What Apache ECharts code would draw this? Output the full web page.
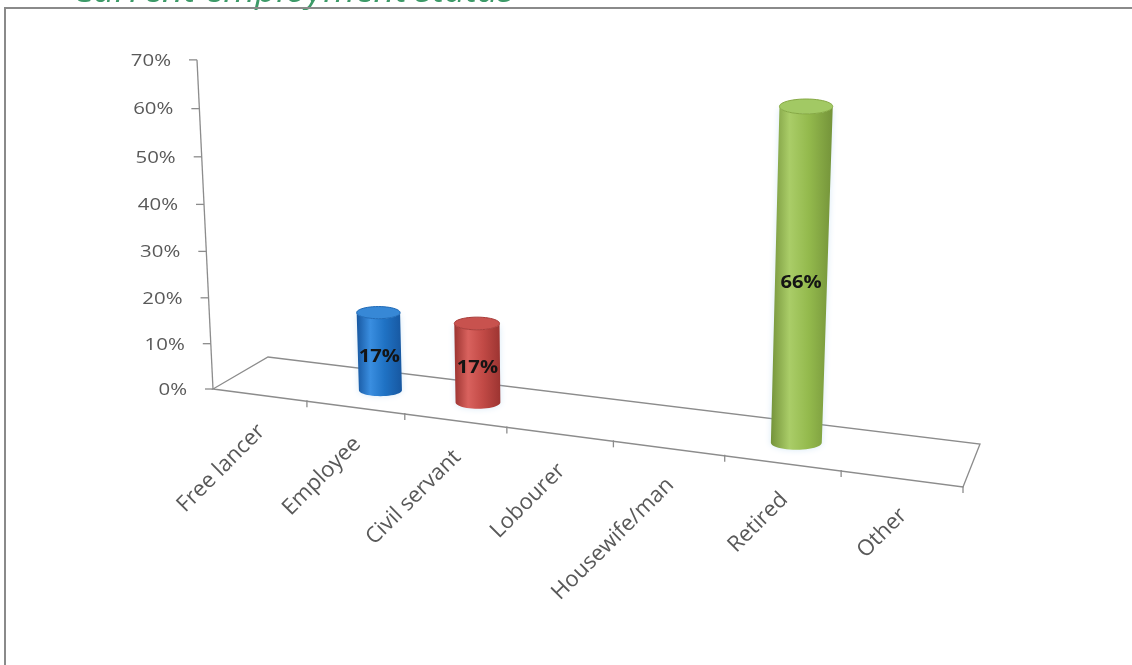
<!DOCTYPE html>
<html>
<head>
<meta charset="utf-8">
<script src="https://cdn.jsdelivr.net/npm/echarts@6/dist/echarts.min.js"></script>
<style>
  html, body { margin: 0; padding: 0; background: #ffffff; }
  #chart { width: 1132px; height: 665px; }
</style>
</head>
<body>
<div id="chart"></div>
<script>
// ---- data ----
const categories = ['Free lancer', 'Employee', 'Civil servant', 'Lobourer', 'Housewife/man', 'Retired', 'Other'];
const shares = [0, 0.17, 0.17, 0, 0, 0.66, 0];
const yTicks = [0, 0.1, 0.2, 0.3, 0.4, 0.5, 0.6, 0.7];
const yTickLabels = ['0%', '10%', '20%', '30%', '40%', '50%', '60%', '70%'];
const titleText = 'Current employment status';

// ---- look ----
const FONT = '"Open Sans", "Liberation Sans", sans-serif';
const AXIS_COLOR = '#8c8c8c';
const LABEL_COLOR = '#595959';
const barStyles = {
  'Employee':      { dark: '#1757a0', light: '#3a8ee0', mid: '#1f72c4', cap: '#3788d6', rim: '#1e69b6' },
  'Civil servant': { dark: '#9c3431', light: '#d9625e', mid: '#c24a46', cap: '#c8524e', rim: '#a83c39' },
  'Retired':       { dark: '#74933a', light: '#aacd68', mid: '#93b94c', cap: '#a2c964', rim: '#86a944' }
};

// ---- perspective: floor quad (front/back edges) and vertical vanishing point ----
const FLOOR = { frontLeft: [213, 389], frontRight: [963, 487], backRight: [980, 444], backLeft: [268, 357] };
const VERTICAL_VP = [579, 7915];
const RISE = -0.0419;      // homogeneous weight of the full value-axis height
const BAR_DEPTH = 0.5;     // bars stand half way back on the floor
const BAR_RADIUS = 0.225;  // cylinder radius, in category widths

function squareToQuad(p0, p1, p2, p3) {
  const dx1 = p1[0] - p2[0], dy1 = p1[1] - p2[1];
  const dx2 = p3[0] - p2[0], dy2 = p3[1] - p2[1];
  const dx3 = p0[0] - p1[0] + p2[0] - p3[0], dy3 = p0[1] - p1[1] + p2[1] - p3[1];
  const den = dx1 * dy2 - dx2 * dy1;
  const g = (dx3 * dy2 - dx2 * dy3) / den;
  const h = (dx1 * dy3 - dx3 * dy1) / den;
  return {
    a: p1[0] - p0[0] + g * p1[0], b: p3[0] - p0[0] + h * p3[0], c: p0[0],
    d: p1[1] - p0[1] + g * p1[1], e: p3[1] - p0[1] + h * p3[1], f: p0[1],
    g: g, h: h
  };
}
const H = squareToQuad(FLOOR.frontLeft, FLOOR.frontRight, FLOOR.backRight, FLOOR.backLeft);

// u: position across the category axis (0..1), v: depth (0 front, 1 back), t: share of value axis (0..1)
function project(u, v, t) {
  const w = H.g * u + H.h * v + RISE * t + 1;
  return [
    (H.a * u + H.b * v + RISE * VERTICAL_VP[0] * t + H.c) / w,
    (H.d * u + H.e * v + RISE * VERTICAL_VP[1] * t + H.f) / w
  ];
}
// pixel from the flat cartesian grid -> (u, t)
function toUT(pt, cs) {
  return [(pt[0] - cs.x) / cs.width, (cs.y + cs.height - pt[1]) / cs.height];
}

function renderFloor(params, api) {
  const cs = params.coordSys;
  const tTop = toUT(api.coord([0, yTicks[yTicks.length - 1]]), cs)[1];
  const quad = [project(0, 0, 0), project(1, 0, 0), project(1, 1, 0), project(0, 1, 0)];
  const a0 = project(0, 0, 0), a1 = project(0, 0, tTop);
  return {
    type: 'group',
    children: [
      { type: 'polygon', shape: { points: quad }, style: { fill: 'none', stroke: AXIS_COLOR, lineWidth: 1.3 } },
      { type: 'line', shape: { x1: a0[0], y1: a0[1], x2: a1[0], y2: a1[1] }, style: { stroke: AXIS_COLOR, lineWidth: 1.3 } }
    ]
  };
}

function renderYTick(params, api) {
  const cs = params.coordSys;
  const t = toUT(api.coord([0, api.value(1)]), cs)[1];
  const p = project(0, 0, t);
  return {
    type: 'group',
    children: [
      { type: 'line', shape: { x1: p[0] - 8, y1: p[1], x2: p[0], y2: p[1] }, style: { stroke: AXIS_COLOR, lineWidth: 1.3 } },
      {
        type: 'text', x: p[0] - 26, y: p[1] + 1, scaleX: 1.2,
        style: { text: yTickLabels[params.dataIndex], font: '17px ' + FONT, fill: LABEL_COLOR, align: 'right', verticalAlign: 'middle' }
      }
    ]
  };
}

function renderCategory(params, api) {
  const cs = params.coordSys;
  const i = api.value(0);
  const c = api.coord([i, 0]);
  const bw = api.size([1, 0])[0];
  const uC = toUT(c, cs)[0];
  const uR = (c[0] + bw / 2 - cs.x) / cs.width;
  const tick = project(uR, 0, 0);
  const mid = project(uC, 0, 0);
  return {
    type: 'group',
    children: [
      { type: 'line', shape: { x1: tick[0], y1: tick[1] - 1, x2: tick[0], y2: tick[1] + 6 }, style: { stroke: AXIS_COLOR, lineWidth: 1.3 } },
      {
        type: 'text', x: mid[0] + 2, y: mid[1] + 33, rotation: Math.PI / 4,
        style: { text: categories[i], font: '22px ' + FONT, fill: LABEL_COLOR, align: 'right', verticalAlign: 'middle' }
      }
    ]
  };
}

function ellipse(cx, cy, rx, ry, from, to, n) {
  const pts = [];
  for (let k = 0; k <= n; k++) {
    const a = from + (to - from) * k / n;
    pts.push([cx + rx * Math.cos(a), cy + ry * Math.sin(a)]);
  }
  return pts;
}

function renderCylinder(params, api) {
  const value = api.value(1);
  if (!(value > 0)) return null;
  const cs = params.coordSys;
  const i = api.value(0);
  const name = categories[i];
  const st = barStyles[name];
  const c = api.coord([i, value]);
  const bw = api.size([1, 0])[0];
  const ut = toUT(c, cs);
  const uC = ut[0], tTop = ut[1];
  const r = BAR_RADIUS * bw / cs.width;
  const b = project(uC, BAR_DEPTH, 0);
  const t = project(uC, BAR_DEPTH, tTop);
  const rxB = (project(uC + r, BAR_DEPTH, 0)[0] - project(uC - r, BAR_DEPTH, 0)[0]) / 2;
  const rxT = (project(uC + r, BAR_DEPTH, tTop)[0] - project(uC - r, BAR_DEPTH, tTop)[0]) / 2;
  const ryB = rxB * 0.28, ryT = rxT * 0.28;
  const body = []
    .concat(ellipse(b[0], b[1], rxB, ryB, Math.PI, 0, 24))
    .concat(ellipse(t[0], t[1], rxT, ryT, 0, Math.PI, 24));
  const cap = ellipse(t[0], t[1], rxT, ryT, 0, Math.PI * 2, 48);
  const lbl = project(uC, BAR_DEPTH, tTop / 2);
  const grad = new echarts.graphic.LinearGradient(0, 0, 1, 0, [
    { offset: 0, color: st.dark },
    { offset: 0.3, color: st.light },
    { offset: 0.62, color: st.mid },
    { offset: 1, color: st.dark }
  ]);
  return {
    type: 'group',
    children: [
      { type: 'polygon', shape: { points: body }, style: { fill: grad, shadowBlur: 6, shadowColor: 'rgba(140,190,230,0.35)' } },
      { type: 'polygon', shape: { points: cap }, style: { fill: st.cap, stroke: st.rim, lineWidth: 1 } },
      {
        type: 'text', x: lbl[0], y: lbl[1] + 5, scaleX: 1.12,
        style: { text: Math.round(value * 100) + '%', font: 'bold 18px ' + FONT, fill: '#141414', align: 'center', verticalAlign: 'middle' }
      }
    ]
  };
}

const chart = echarts.init(document.getElementById('chart'), null, { renderer: 'canvas' });
chart.setOption({
  animation: false,
  backgroundColor: '#ffffff',
  grid: { left: 0, top: 0, width: 600, height: 600, show: false },
  xAxis: { type: 'category', data: categories, show: false },
  yAxis: { type: 'value', min: 0, max: 0.7, interval: 0.1, show: false },
  graphic: [
    { type: 'polyline', shape: { points: [[5, 665], [5, 8], [1132, 8]] }, style: { fill: 'none', stroke: '#8a8a8a', lineWidth: 2 }, silent: true, z: 10 },
    {
      type: 'text', x: 72, y: 9, scaleX: 1.08,
      style: { text: titleText, font: 'italic 34px ' + FONT, fill: '#3d9a68', verticalAlign: 'bottom' }, silent: true
    }
  ],
  series: [
    { type: 'custom', name: 'floor', clip: false, silent: true, data: [[0, 0]], renderItem: renderFloor, z: 1 },
    { type: 'custom', name: 'value axis', clip: false, silent: true, data: yTicks.map(v => [0, v]), renderItem: renderYTick, z: 2 },
    { type: 'custom', name: 'category axis', clip: false, silent: true, data: categories.map((c, i) => [i, 0]), renderItem: renderCategory, z: 2 },
    { type: 'custom', name: 'Share', clip: false, data: shares.map((v, i) => [i, v]), renderItem: renderCylinder, z: 3 }
  ]
});
</script>
</body>
</html>
